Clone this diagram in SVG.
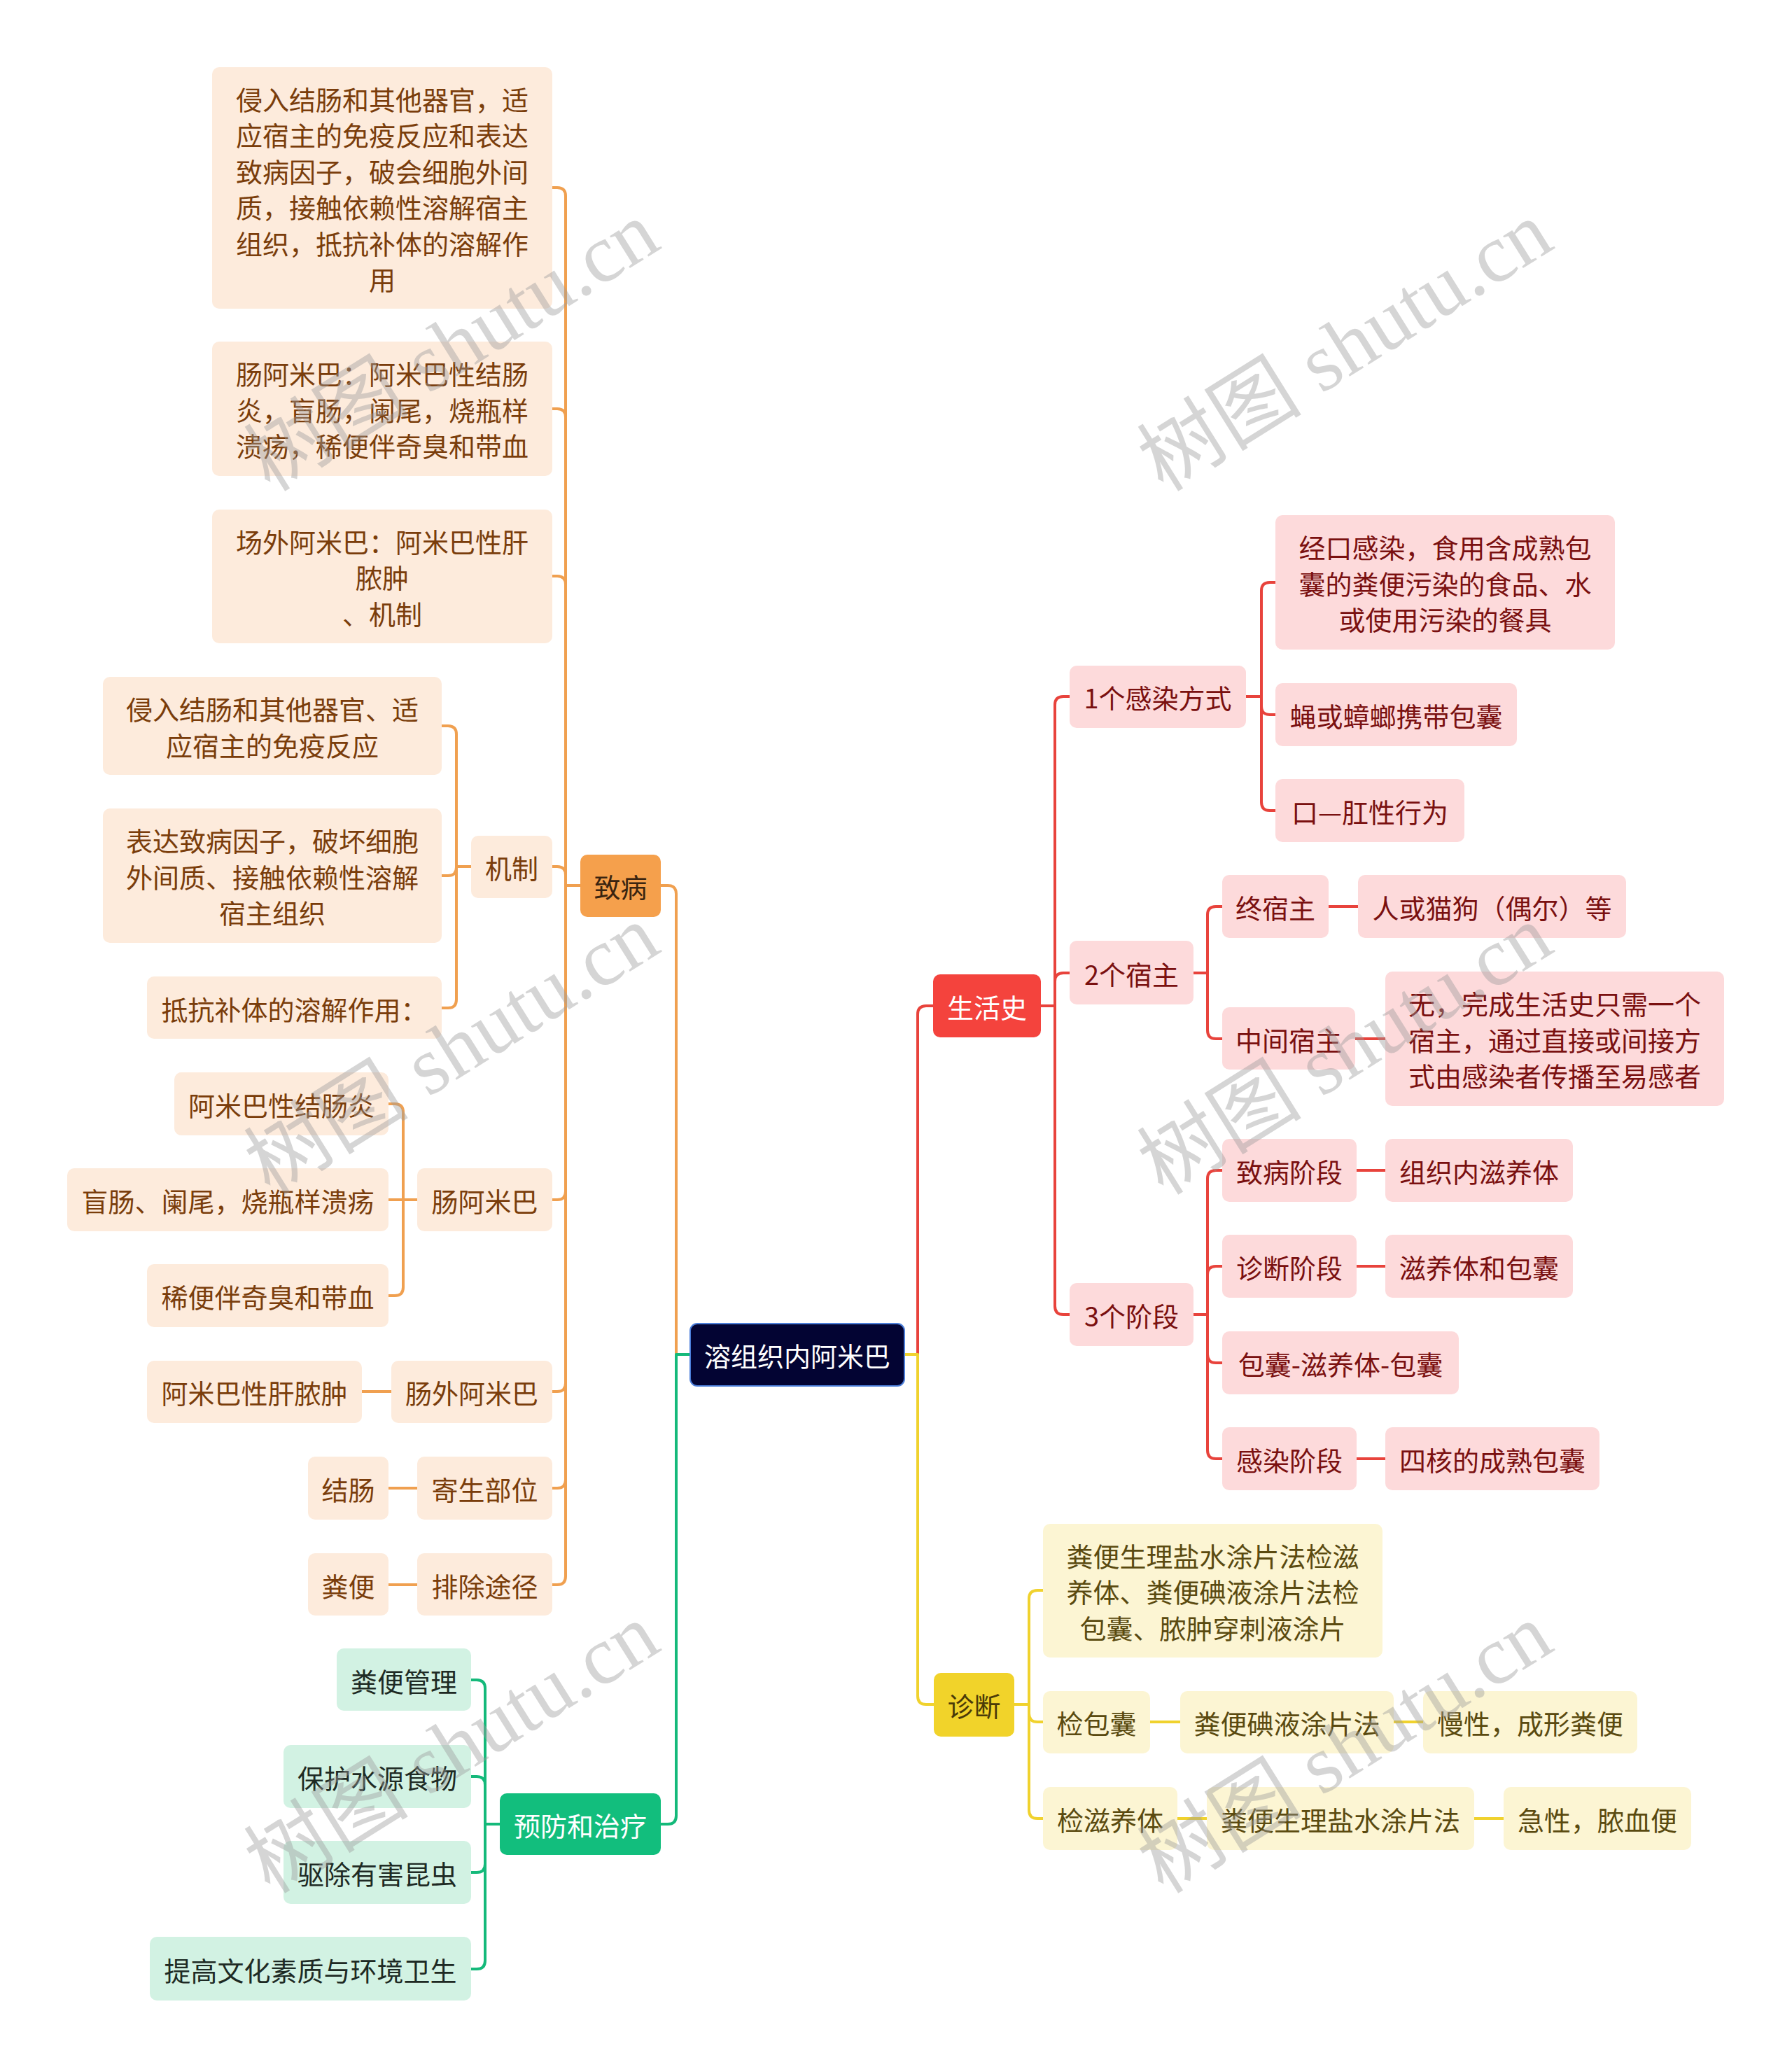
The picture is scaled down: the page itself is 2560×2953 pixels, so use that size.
<svg xmlns="http://www.w3.org/2000/svg" width="2560" height="2953" viewBox="0 0 2560 2953">
<style>
text{font-family:"Noto Sans CJK SC","Noto Sans",sans-serif;font-size:38px;text-anchor:middle;dominant-baseline:central}
.om{fill:#F5A04C}.oc{fill:#FDEBDC}.tom{fill:#3A2410}.toc{fill:#7A3D0B}
.rm{fill:#F4433D}.rc{fill:#FDDADB}.trm{fill:#FFFFFF}.trc{fill:#7A1010}
.ym{fill:#F1D32A}.yc{fill:#FCF5D3}.tym{fill:#4A3A08}.tyc{fill:#5A4A10}
.gm{fill:#12BE7D}.gc{fill:#D2F2E3}.tgm{fill:#FFFFFF}.tgc{fill:#1E2A24}
.ctr{fill:#030433;stroke:#4C7FDA;stroke-width:2}.tctr{fill:#FFFFFF}
.lk{fill:none;stroke-width:4;stroke-linecap:round;stroke-linejoin:round}
.lo{stroke:#F0A050}.lr{stroke:#E8433C}.ly{stroke:#F0D22E}.lg{stroke:#14B97A}
.wm{font-family:"Liberation Serif","Noto Sans CJK SC",serif;font-size:118px;fill:#9A9A9A;fill-opacity:0.42;text-anchor:start;dominant-baseline:auto}
</style>
<rect width="2560" height="2953" fill="#FFFFFF"/>
<g id="connectors">
<path class="lk lo" d="M986 1935 H966 V1277 Q966 1265 954 1265 H944"/>
<path class="lk lg" d="M986 1935 H966 V2594 Q966 2606 954 2606 H944"/>
<path class="lk lr" d="M1292 1935 H1311 V1449 Q1311 1437 1323 1437 H1333"/>
<path class="lk ly" d="M1292 1935 H1311 V2423 Q1311 2435 1323 2435 H1334"/>
<path class="lk lo" d="M829 1265 H808 V280 Q808 268 796 268 H789"/>
<path class="lk lo" d="M829 1265 H808 V596 Q808 584 796 584 H789"/>
<path class="lk lo" d="M829 1265 H808 V835 Q808 823 796 823 H789"/>
<path class="lk lo" d="M829 1265 H808 V1250 Q808 1238 796 1238 H789"/>
<path class="lk lo" d="M829 1265 H808 V1702 Q808 1714 796 1714 H789"/>
<path class="lk lo" d="M829 1265 H808 V1976 Q808 1988 796 1988 H789"/>
<path class="lk lo" d="M829 1265 H808 V2114 Q808 2126 796 2126 H789"/>
<path class="lk lo" d="M829 1265 H808 V2252 Q808 2264 796 2264 H789"/>
<path class="lk lo" d="M673 1238 H652 V1049 Q652 1037 640 1037 H631"/>
<path class="lk lo" d="M673 1238 H652 V1239 Q652 1251 640 1251 H631"/>
<path class="lk lo" d="M673 1238 H652 V1428 Q652 1440 640 1440 H631"/>
<path class="lk lo" d="M596 1714 H576 V1589 Q576 1577 564 1577 H555"/>
<path class="lk lo" d="M596 1714 H555"/>
<path class="lk lo" d="M596 1714 H576 V1839 Q576 1851 564 1851 H555"/>
<path class="lk lo" d="M559 1988 H517"/>
<path class="lk lo" d="M596 2126 H555"/>
<path class="lk lo" d="M596 2264 H555"/>
<path class="lk lg" d="M714 2606 H693 V2412 Q693 2400 681 2400 H673"/>
<path class="lk lg" d="M714 2606 H693 V2550 Q693 2538 681 2538 H673"/>
<path class="lk lg" d="M714 2606 H693 V2663 Q693 2675 681 2675 H673"/>
<path class="lk lg" d="M714 2606 H693 V2801 Q693 2813 681 2813 H673"/>
<path class="lk lr" d="M1487 1437 H1507 V1007 Q1507 995 1519 995 H1528"/>
<path class="lk lr" d="M1487 1437 H1507 V1402 Q1507 1390 1519 1390 H1528"/>
<path class="lk lr" d="M1487 1437 H1507 V1866 Q1507 1878 1519 1878 H1528"/>
<path class="lk lr" d="M1780 995 H1802 V844 Q1802 832 1814 832 H1822"/>
<path class="lk lr" d="M1780 995 H1802 V1009 Q1802 1021 1814 1021 H1822"/>
<path class="lk lr" d="M1780 995 H1802 V1146 Q1802 1158 1814 1158 H1822"/>
<path class="lk lr" d="M1705 1390 H1725 V1307 Q1725 1295 1737 1295 H1746"/>
<path class="lk lr" d="M1705 1390 H1725 V1472 Q1725 1484 1737 1484 H1746"/>
<path class="lk lr" d="M1898 1295 H1940"/>
<path class="lk lr" d="M1936 1484 H1979"/>
<path class="lk lr" d="M1705 1878 H1725 V1684 Q1725 1672 1737 1672 H1746"/>
<path class="lk lr" d="M1705 1878 H1725 V1821 Q1725 1809 1737 1809 H1746"/>
<path class="lk lr" d="M1705 1878 H1725 V1935 Q1725 1947 1737 1947 H1746"/>
<path class="lk lr" d="M1705 1878 H1725 V2072 Q1725 2084 1737 2084 H1746"/>
<path class="lk lr" d="M1938 1672 H1979"/>
<path class="lk lr" d="M1938 1809 H1979"/>
<path class="lk lr" d="M1938 2084 H1979"/>
<path class="lk ly" d="M1449 2435 H1470 V2284 Q1470 2272 1482 2272 H1490"/>
<path class="lk ly" d="M1449 2435 H1470 V2448 Q1470 2460 1482 2460 H1490"/>
<path class="lk ly" d="M1449 2435 H1470 V2586 Q1470 2598 1482 2598 H1490"/>
<path class="lk ly" d="M1643 2460 H1686"/>
<path class="lk ly" d="M1991 2460 H2033"/>
<path class="lk ly" d="M1682 2598 H1724"/>
<path class="lk ly" d="M2106 2598 H2148"/>
</g>
<g id="n-root"><rect class="ctr" x="986" y="1891" width="306" height="89" rx="10"/><text class="tctr" x="1139" y="1935">溶组织内阿米巴</text></g>
<g id="n-zhibing"><rect class="om" x="829" y="1221" width="115" height="89" rx="10"/><text class="tom" x="886.5" y="1265">致病</text></g>
<g id="n-o1"><rect class="oc" x="303" y="96" width="486" height="345" rx="10"/>
<text class="toc" x="546" y="140">侵入结肠和其他器官，适</text>
<text class="toc" x="546" y="191.5">应宿主的免疫反应和表达</text>
<text class="toc" x="546" y="243">致病因子，破会细胞外间</text>
<text class="toc" x="546" y="294.5">质，接触依赖性溶解宿主</text>
<text class="toc" x="546" y="346">组织，抵抗补体的溶解作</text>
<text class="toc" x="546" y="397.5">用</text></g>
<g id="n-o2"><rect class="oc" x="303" y="488" width="486" height="192" rx="10"/>
<text class="toc" x="546" y="532.5">肠阿米巴：阿米巴性结肠</text>
<text class="toc" x="546" y="584">炎，盲肠，阑尾，烧瓶样</text>
<text class="toc" x="546" y="635.5">溃疡，稀便伴奇臭和带血</text></g>
<g id="n-o3"><rect class="oc" x="303" y="728" width="486" height="191" rx="10"/>
<text class="toc" x="546" y="772">场外阿米巴：阿米巴性肝</text>
<text class="toc" x="546" y="823.5">脓肿</text>
<text class="toc" x="546" y="875">、机制</text></g>
<g id="n-jizhi"><rect class="oc" x="673" y="1194" width="116" height="89" rx="10"/><text class="toc" x="731" y="1238">机制</text></g>
<g id="n-jz1"><rect class="oc" x="147" y="967" width="484" height="140" rx="10"/>
<text class="toc" x="389" y="1011.5">侵入结肠和其他器官、适</text>
<text class="toc" x="389" y="1063">应宿主的免疫反应</text></g>
<g id="n-jz2"><rect class="oc" x="147" y="1155" width="484" height="192" rx="10"/>
<text class="toc" x="389" y="1199.5">表达致病因子，破坏细胞</text>
<text class="toc" x="389" y="1251">外间质、接触依赖性溶解</text>
<text class="toc" x="389" y="1302.5">宿主组织</text></g>
<g id="n-jz3"><rect class="oc" x="210" y="1395" width="421" height="89" rx="10"/><text class="toc" x="420.5" y="1440">抵抗补体的溶解作用：</text></g>
<g id="n-changamiba"><rect class="oc" x="596" y="1669" width="193" height="90" rx="10"/><text class="toc" x="692.5" y="1714">肠阿米巴</text></g>
<g id="n-ca1"><rect class="oc" x="249" y="1532" width="306" height="90" rx="10"/><text class="toc" x="402" y="1577">阿米巴性结肠炎</text></g>
<g id="n-ca2"><rect class="oc" x="96" y="1669" width="459" height="90" rx="10"/><text class="toc" x="325.5" y="1714">盲肠、阑尾，烧瓶样溃疡</text></g>
<g id="n-ca3"><rect class="oc" x="210" y="1806" width="345" height="90" rx="10"/><text class="toc" x="382.5" y="1851">稀便伴奇臭和带血</text></g>
<g id="n-changwai"><rect class="oc" x="559" y="1944" width="230" height="89" rx="10"/><text class="toc" x="674" y="1988">肠外阿米巴</text></g>
<g id="n-ganzhong"><rect class="oc" x="210" y="1944" width="307" height="89" rx="10"/><text class="toc" x="363.5" y="1988">阿米巴性肝脓肿</text></g>
<g id="n-jisheng"><rect class="oc" x="596" y="2081" width="193" height="90" rx="10"/><text class="toc" x="692.5" y="2126">寄生部位</text></g>
<g id="n-jiechang"><rect class="oc" x="440" y="2081" width="115" height="90" rx="10"/><text class="toc" x="497.5" y="2126">结肠</text></g>
<g id="n-paichu"><rect class="oc" x="596" y="2219" width="193" height="89" rx="10"/><text class="toc" x="692.5" y="2264">排除途径</text></g>
<g id="n-fenbian"><rect class="oc" x="440" y="2219" width="115" height="89" rx="10"/><text class="toc" x="497.5" y="2264">粪便</text></g>
<g id="n-yufang"><rect class="gm" x="714" y="2562" width="230" height="88" rx="10"/><text class="tgm" x="829" y="2606">预防和治疗</text></g>
<g id="n-g1"><rect class="gc" x="481" y="2355" width="192" height="89" rx="10"/><text class="tgc" x="577" y="2400">粪便管理</text></g>
<g id="n-g2"><rect class="gc" x="405" y="2493" width="268" height="90" rx="10"/><text class="tgc" x="539" y="2538">保护水源食物</text></g>
<g id="n-g3"><rect class="gc" x="405" y="2630" width="268" height="90" rx="10"/><text class="tgc" x="539" y="2675">驱除有害昆虫</text></g>
<g id="n-g4"><rect class="gc" x="214" y="2767" width="459" height="91" rx="10"/><text class="tgc" x="443.5" y="2813">提高文化素质与环境卫生</text></g>
<g id="n-shenghuoshi"><rect class="rm" x="1333" y="1392" width="154" height="90" rx="10"/><text class="trm" x="1410" y="1437">生活史</text></g>
<g id="n-ganran"><rect class="rc" x="1528" y="951" width="252" height="89" rx="10"/><text class="trc" x="1654" y="995">1个感染方式</text></g>
<g id="n-gr1"><rect class="rc" x="1822" y="736" width="485" height="192" rx="10"/>
<text class="trc" x="2064.5" y="780.5">经口感染，食用含成熟包</text>
<text class="trc" x="2064.5" y="832">囊的粪便污染的食品、水</text>
<text class="trc" x="2064.5" y="883.5">或使用污染的餐具</text></g>
<g id="n-gr2"><rect class="rc" x="1822" y="976" width="345" height="90" rx="10"/><text class="trc" x="1994.5" y="1021">蝇或蟑螂携带包囊</text></g>
<g id="n-gr3"><rect class="rc" x="1822" y="1113" width="270" height="90" rx="10"/><text class="trc" x="1957" y="1158">口—肛性行为</text></g>
<g id="n-suzhu"><rect class="rc" x="1528" y="1344" width="177" height="91" rx="10"/><text class="trc" x="1616.5" y="1390">2个宿主</text></g>
<g id="n-zhongsuzhu"><rect class="rc" x="1746" y="1250" width="152" height="90" rx="10"/><text class="trc" x="1822" y="1295">终宿主</text></g>
<g id="n-renmao"><rect class="rc" x="1940" y="1250" width="383" height="90" rx="10"/><text class="trc" x="2131.5" y="1295">人或猫狗（偶尔）等</text></g>
<g id="n-zhongjian"><rect class="rc" x="1746" y="1439" width="190" height="89" rx="10"/><text class="trc" x="1841" y="1484">中间宿主</text></g>
<g id="n-wu"><rect class="rc" x="1979" y="1388" width="484" height="192" rx="10"/>
<text class="trc" x="2221" y="1432.5">无，完成生活史只需一个</text>
<text class="trc" x="2221" y="1484">宿主，通过直接或间接方</text>
<text class="trc" x="2221" y="1535.5">式由感染者传播至易感者</text></g>
<g id="n-jieduan"><rect class="rc" x="1528" y="1833" width="177" height="90" rx="10"/><text class="trc" x="1616.5" y="1878">3个阶段</text></g>
<g id="n-s1"><rect class="rc" x="1746" y="1627" width="192" height="90" rx="10"/><text class="trc" x="1842" y="1672">致病阶段</text></g>
<g id="n-s1c"><rect class="rc" x="1979" y="1627" width="268" height="90" rx="10"/><text class="trc" x="2113" y="1672">组织内滋养体</text></g>
<g id="n-s2"><rect class="rc" x="1746" y="1764" width="192" height="90" rx="10"/><text class="trc" x="1842" y="1809">诊断阶段</text></g>
<g id="n-s2c"><rect class="rc" x="1979" y="1764" width="268" height="90" rx="10"/><text class="trc" x="2113" y="1809">滋养体和包囊</text></g>
<g id="n-s3"><rect class="rc" x="1746" y="1902" width="338" height="90" rx="10"/><text class="trc" x="1915" y="1947">包囊-滋养体-包囊</text></g>
<g id="n-s4"><rect class="rc" x="1746" y="2039" width="192" height="90" rx="10"/><text class="trc" x="1842" y="2084">感染阶段</text></g>
<g id="n-s4c"><rect class="rc" x="1979" y="2039" width="306" height="90" rx="10"/><text class="trc" x="2132" y="2084">四核的成熟包囊</text></g>
<g id="n-zhenduan"><rect class="ym" x="1334" y="2390" width="115" height="91" rx="10"/><text class="tym" x="1391.5" y="2435">诊断</text></g>
<g id="n-d1"><rect class="yc" x="1490" y="2177" width="485" height="191" rx="10"/>
<text class="tyc" x="1732.5" y="2221">粪便生理盐水涂片法检滋</text>
<text class="tyc" x="1732.5" y="2272.5">养体、粪便碘液涂片法检</text>
<text class="tyc" x="1732.5" y="2324">包囊、脓肿穿刺液涂片</text></g>
<g id="n-d2"><rect class="yc" x="1490" y="2416" width="153" height="89" rx="10"/><text class="tyc" x="1566.5" y="2460">检包囊</text></g>
<g id="n-d2a"><rect class="yc" x="1686" y="2416" width="305" height="89" rx="10"/><text class="tyc" x="1838.5" y="2460">粪便碘液涂片法</text></g>
<g id="n-d2b"><rect class="yc" x="2033" y="2416" width="306" height="89" rx="10"/><text class="tyc" x="2186" y="2460">慢性，成形粪便</text></g>
<g id="n-d3"><rect class="yc" x="1490" y="2553" width="192" height="90" rx="10"/><text class="tyc" x="1586" y="2598">检滋养体</text></g>
<g id="n-d3a"><rect class="yc" x="1724" y="2553" width="382" height="90" rx="10"/><text class="tyc" x="1915" y="2598">粪便生理盐水涂片法</text></g>
<g id="n-d3b"><rect class="yc" x="2148" y="2553" width="268" height="90" rx="10"/><text class="tyc" x="2282" y="2598">急性，脓血便</text></g>
<g id="watermarks">
<text class="wm" x="386" y="704" transform="rotate(-32 386 704)">树图 shutu.cn</text>
<text class="wm" x="386" y="1709" transform="rotate(-32 386 1709)">树图 shutu.cn</text>
<text class="wm" x="386" y="2707" transform="rotate(-32 386 2707)">树图 shutu.cn</text>
<text class="wm" x="1662" y="704" transform="rotate(-32 1662 704)">树图 shutu.cn</text>
<text class="wm" x="1662" y="1709" transform="rotate(-32 1662 1709)">树图 shutu.cn</text>
<text class="wm" x="1662" y="2707" transform="rotate(-32 1662 2707)">树图 shutu.cn</text>
</g>
</svg>
